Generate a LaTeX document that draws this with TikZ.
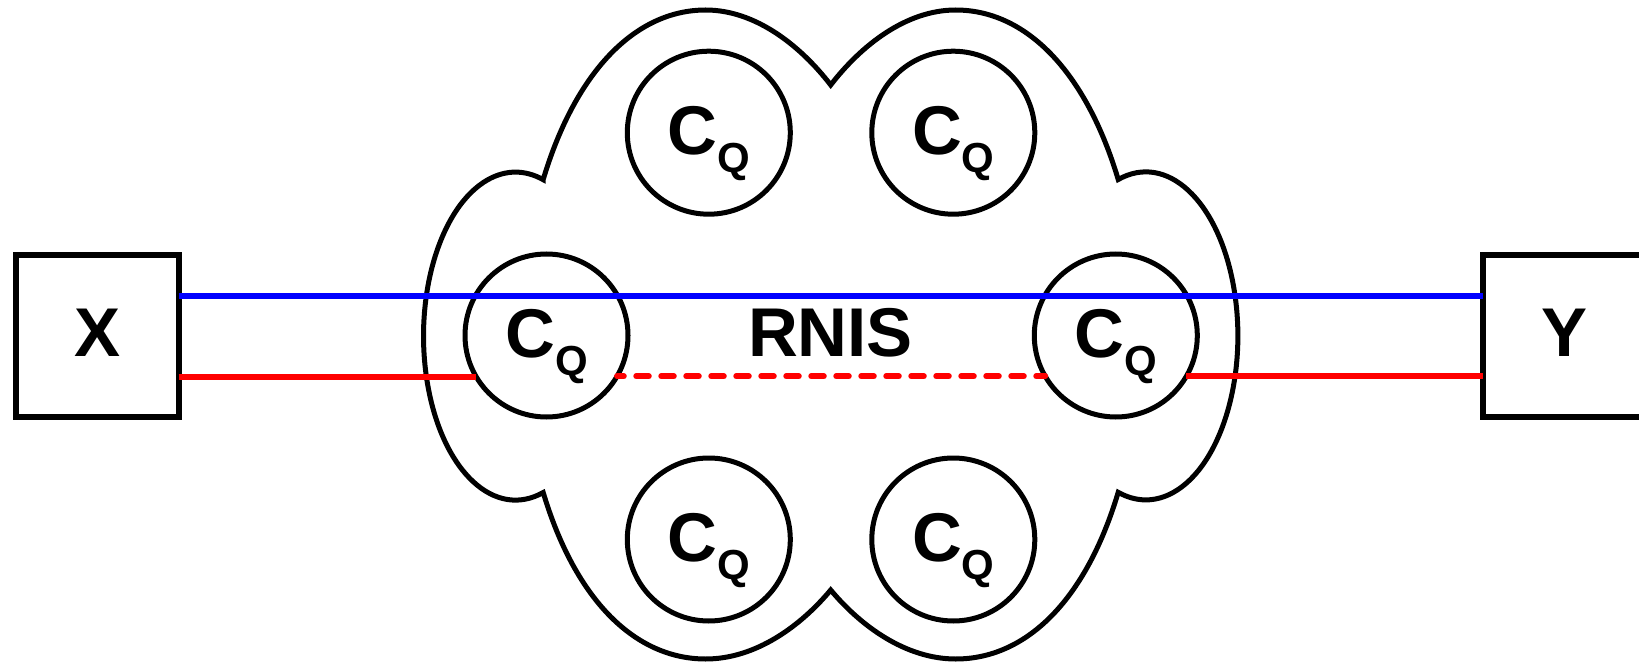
\documentclass[tikz,border=0pt]{standalone}
\usepackage{fontspec}
\setmainfont{Liberation Sans}
\begin{document}
\begin{tikzpicture}[x=1pt,y=-1pt,
  every node/.style={inner sep=0pt, outer sep=0pt},
  bigtext/.style={font=\fontsize{69}{80}\selectfont\bfseries, text height=41.4pt, text depth=0pt},
  endbox/.style={draw, line width=6pt, minimum width=163pt, minimum height=162pt, bigtext},
  qubit/.style={draw, circle, line width=5pt, minimum size=163pt,
    font=\fontsize{69}{80}\selectfont\bfseries, text height=43.6pt, text depth=0pt},
  cloudline/.style={line width=5pt, line join=miter},
  link/.style={line width=6pt},
]
\useasboundingbox (0,0) rectangle (1639,663);

% network cloud
\begin{scope}[shift={(830.7,336)}]
\draw[cloudline] (-287.5,-156.5)
  .. controls (-255,-265) and (-195,-326) .. (-125,-326)
  .. controls (-75,-326) and (-30,-290) .. (0,-251)
  .. controls (30,-290) and (75,-326) .. (125,-326)
  .. controls (195,-326) and (255,-265) .. (287.5,-156.5)
  arc[start angle=-107.5, end angle=107.5, x radius=92, y radius=164]
  .. controls (255,265) and (195,323) .. (125,323)
  .. controls (75,323) and (30,290) .. (0,254)
  .. controls (-30,290) and (-75,323) .. (-125,323)
  .. controls (-195,323) and (-255,265) .. (-287.5,156.5)
  arc[start angle=72.5, end angle=287.5, x radius=92, y radius=164]
  -- cycle;
\end{scope}

\newcommand\cqlabel{C\raisebox{-18pt}{\fontsize{42}{50}\selectfont Q}}

% quantum nodes
\node[qubit] (c1) at (708.8,132.7) {\cqlabel};
\node[qubit] (c2) at (953.3,132.7) {\cqlabel};
\node[qubit] (c3) at (546.5,335.5) {\cqlabel};
\node[qubit] (c4) at (1115.8,335.5) {\cqlabel};
\node[qubit] (c5) at (708.8,539.5) {\cqlabel};
\node[qubit] (c6) at (953.3,539.5) {\cqlabel};

\node[bigtext] (rnis) at (830.5,336) {RNIS};

% end users
\node[endbox] (X) at (97.2,336) {X};
\node[endbox] (Y) at (1564.2,336) {Y};

% links
\coordinate (xb) at ([yshift=40.3pt]X.east);
\coordinate (xr) at ([yshift=-40.7pt]X.east);
\draw[link, red] (xr) -- (xr -| c3.210.4);
\draw[link, red, dash pattern=on 12.5pt off 12.5pt, dash phase=5.8pt, line cap=round] (c3.-30.4) -- (c4.210.4);
\draw[link, red] (c4.-30.4) -- (c4.-30.4 -| Y.west);
\draw[link, blue] (xb) -- (xb -| Y.west);
\end{tikzpicture}
\end{document}
